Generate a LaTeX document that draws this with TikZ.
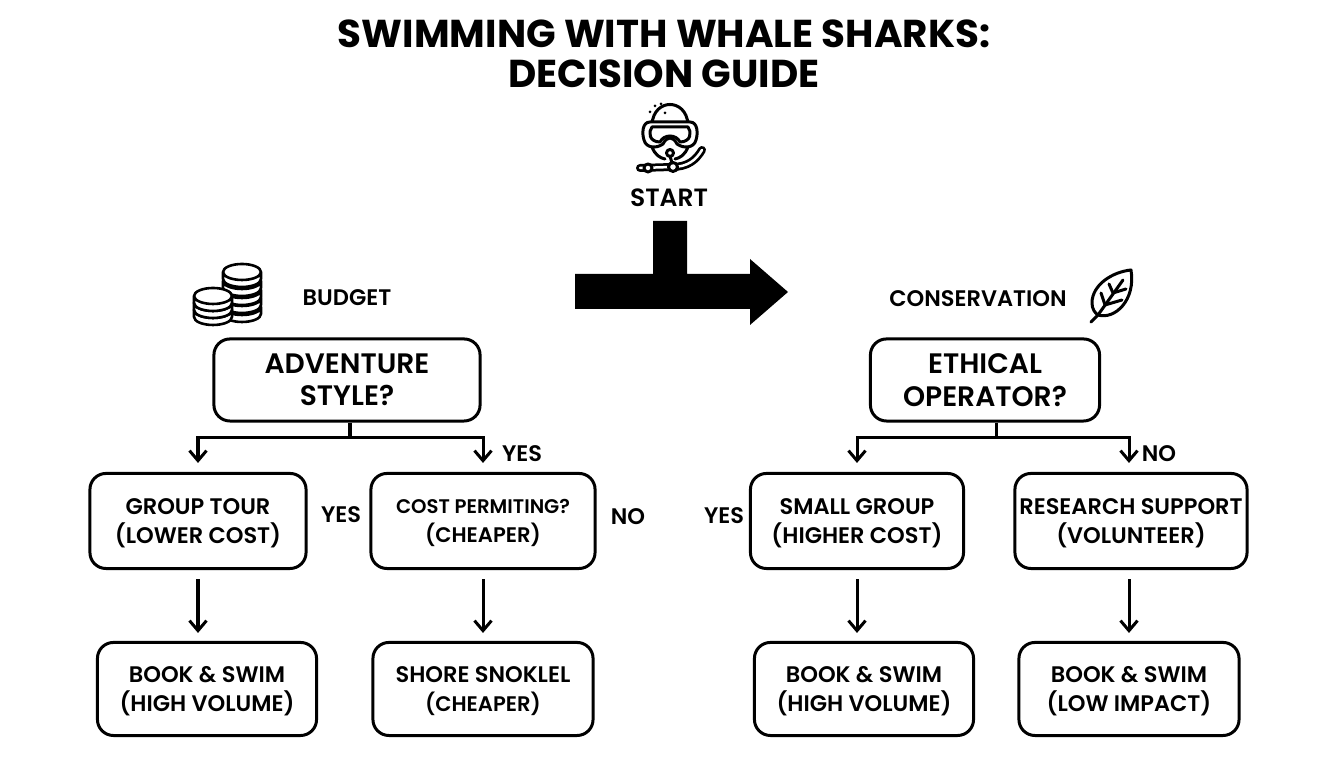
\documentclass[tikz,border=0pt]{standalone}
\usepackage{fontspec}
\setmainfont{Poppins}[BoldFont={Poppins SemiBold}]
\newfontfamily\titlefont{Poppins Bold}
\usetikzlibrary{arrows.meta}

\tikzset{
  qbox/.style={draw=black, line width=.03cm, rounded corners=.16cm, align=center, inner sep=0pt, text depth=0pt, font=\fontsize{8}{9.2}\selectfont\bfseries},
  smallbox/.style={qbox, font=\fontsize{6.4}{8.3}\selectfont\bfseries},
  lbl/.style={inner sep=0pt, font=\fontsize{6.4}{7}\selectfont\bfseries},
  link/.style={line width=.03cm, -{Straight Barb[length=.1cm,width=.17cm,line width=.03cm]}},
  icon/.style={line width=.03cm, line cap=round, line join=round},
}

\begin{document}
\begin{tikzpicture}[x=.01cm,y=-.01cm]
  \useasboundingbox (0,0) rectangle (1344,768);

  % title
  \node[align=center, inner sep=0pt, font=\fontsize{11.05}{11.4}\selectfont\titlefont] (title) at (664,54) {SWIMMING WITH WHALE SHARKS:\\DECISION GUIDE};

  % diver
  \begin{scope}[icon]
    \draw (652,124) .. controls (654,98) and (686,98) .. (688,124);
    \draw[fill=white] (650,122) -- (690,122) .. controls (698,122) and (698,134) .. (696,140) .. controls (694,148) and (684,149) .. (677,144) .. controls (673,136) and (667,136) .. (663,144) .. controls (656,149) and (646,148) .. (644,140) .. controls (642,134) and (642,122) .. (650,122) -- cycle;
    \draw (652,127) -- (688,127) .. controls (692,132) and (691,142) .. (680,142) .. controls (676,134) and (664,134) .. (660,142) .. controls (649,142) and (648,132) .. (652,127) -- cycle;
    \draw (652,147) .. controls (655,155) and (660,158) .. (665,159);
    \draw (688,147) .. controls (685,155) and (680,158) .. (675,159);
    \foreach \bubx/\buby in {661/104, 655/106, 650/112, 665/113}
      \fill (\bubx,\buby) circle (1.5);
    \draw[line width=.08cm, line cap=round] (640,168) -- (672,167) .. controls (688,167) and (696,160) .. (702,150);
    \draw[white, line width=.025cm, line cap=round] (640,168) -- (672,167) .. controls (688,167) and (696,160) .. (702,150);
    \draw[fill=white] (648,168) circle (4);
    \draw[fill=white] (673,167) circle (4.5);
    \draw[fill=white] (670,153) circle (3.5);
    \draw (670,156) -- (672,163);
  \end{scope}
  \node[lbl, font=\fontsize{7.1}{8}\selectfont\bfseries] (start) at (669,198) {START};

  % big arrow
  \fill (653,221) -- (687,221) -- (687,274) -- (750,274) -- (750,259) -- (788,292) -- (750,325) -- (750,309) -- (575,309) -- (575,274) -- (653,274) -- cycle;

  % coins
  \begin{scope}[icon, line width=.026cm]
    \foreach \coiny in {307,298,290,281,272}
      \draw[fill=white] (223,\coiny) -- (223,\coiny+7) arc[start angle=180, end angle=0, x radius=19, y radius=8] -- (261,\coiny) arc[start angle=0, end angle=-180, x radius=19, y radius=8] arc[start angle=180, end angle=0, x radius=19, y radius=8];
    \foreach \coiny in {310,303,296}
      \draw[fill=white] (194,\coiny) -- (194,\coiny+7) arc[start angle=180, end angle=0, x radius=19, y radius=8] -- (232,\coiny) arc[start angle=0, end angle=-180, x radius=19, y radius=8] arc[start angle=180, end angle=0, x radius=19, y radius=8];
  \end{scope}
  \node[lbl] (budget) at (347,298) {BUDGET};
  \node[lbl] (conservation) at (978,299) {CONSERVATION};

  % leaf
  \begin{scope}[icon]
    \draw (1131,270) .. controls (1112,272) and (1092,285) .. (1092,303) .. controls (1092,309) and (1095,313) .. (1098,315) .. controls (1115,320) and (1136,300) .. (1131,270) -- cycle;
    \draw (1091,322) -- (1098,315) -- (1123,280);
    \draw (1105,305) -- (1101,293);
    \draw (1105,305) -- (1122,300);
    \draw (1113,293) -- (1109,284);
    \draw (1113,293) -- (1126,289);
  \end{scope}

  % questions
  \node[qbox, minimum width=2.66cm, minimum height=.82cm] (adventure) at (347,380) {ADVENTURE\\STYLE?};
  \node[qbox, minimum width=2.29cm, minimum height=.82cm] (ethical) at (985,380) {ETHICAL\\OPERATOR?};
  \coordinate (advsplit) at (350,438);
  \coordinate (ethsplit) at (996,438);

  % second row
  \node[smallbox, minimum width=2.16cm, minimum height=.95cm] (grouptour) at (198,521) {GROUP TOUR\\(LOWER COST)};
  \node[smallbox, minimum width=2.24cm, minimum height=.95cm] (costpermit) at (483,521) {\fontsize{5.6}{8.3}\selectfont COST PERMITING?\\\fontsize{6}{8.3}\selectfont (CHEAPER)};
  \node[smallbox, minimum width=2.13cm, minimum height=.95cm] (smallgroup) at (857,521) {SMALL GROUP\\(HIGHER COST)};
  \node[smallbox, minimum width=2.32cm, minimum height=.95cm] (research) at (1131,521) {RESEARCH SUPPORT\\(VOLUNTEER)};

  % third row
  \node[smallbox, minimum width=2.19cm, minimum height=.93cm] (swimone) at (207,689) {BOOK \& SWIM\\(HIGH VOLUME)};
  \node[smallbox, minimum width=2.2cm, minimum height=.93cm] (shore) at (483,689) {SHORE SNOKLEL\\\fontsize{6}{8.3}\selectfont (CHEAPER)};
  \node[smallbox, minimum width=2.19cm, minimum height=.93cm] (swimtwo) at (864,689) {BOOK \& SWIM\\(HIGH VOLUME)};
  \node[smallbox, minimum width=2.2cm, minimum height=.93cm] (swimthree) at (1129,689) {BOOK \& SWIM\\(LOW IMPACT)};

  % branches
  \draw[line width=.03cm] (adventure.south -| advsplit) -- (advsplit);
  \draw[line width=.03cm] (ethical.south -| ethsplit) -- (ethsplit);
  \draw[link, shorten >=.09cm] (advsplit) -| (grouptour.north);
  \draw[link, shorten >=.09cm] (advsplit) -| (shore.north |- costpermit.north);
  \draw[link, shorten >=.09cm] (ethsplit) -| (smallgroup.north);
  \draw[link, shorten >=.09cm] (ethsplit) -| (swimthree.north |- research.north);

  \draw[link, shorten <=.09cm, shorten >=.08cm] (grouptour.south) -- (grouptour.south |- swimone.north);
  \draw[link, shorten <=.09cm, shorten >=.08cm, xshift=.02cm] (costpermit.south) -- (shore.north);
  \draw[link, shorten <=.09cm, shorten >=.08cm] (smallgroup.south) -- (smallgroup.south |- swimtwo.north);
  \draw[link, shorten <=.09cm, shorten >=.08cm] (research.south -| swimthree) -- (swimthree.north);

  % answers
  \node[lbl] (yesa) at (522,454) {YES};
  \node[lbl] (yesb) at (341,515) {YES};
  \node[lbl] (noa) at (628,517) {NO};
  \node[lbl] (yesc) at (724,516) {YES};
  \node[lbl] (nob) at (1159,454) {NO};
\end{tikzpicture}
\end{document}
